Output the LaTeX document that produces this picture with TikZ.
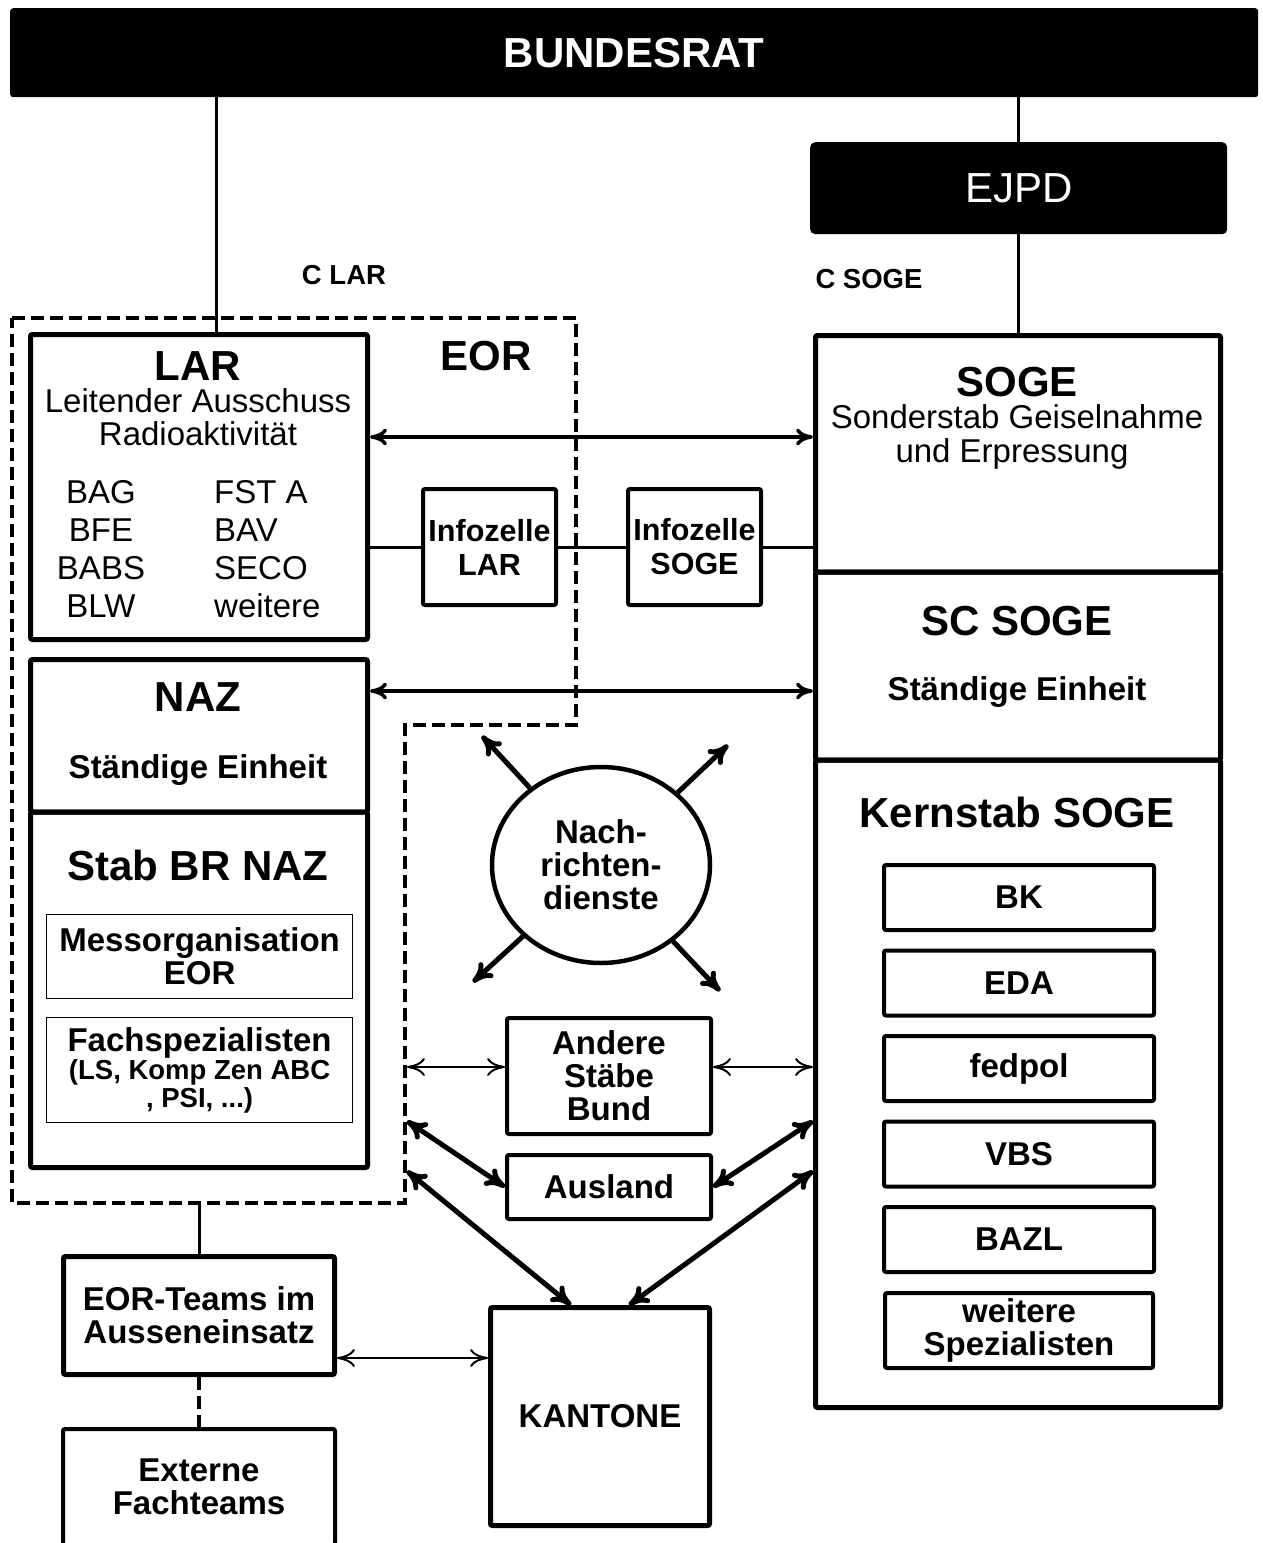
\documentclass[tikz,border=0pt]{standalone}
\usepackage{fontspec}
\setmainfont{Liberation Sans}
\usetikzlibrary{arrows.meta,calc,positioning,shapes.geometric}

\newcommand{\bigbf}{\fontsize{42}{42}\selectfont\bfseries}
\newcommand{\bigrm}{\fontsize{42}{42}\selectfont}
\newcommand{\midbf}{\fontsize{33}{33}\selectfont\bfseries}
\newcommand{\midrm}{\fontsize{33}{33}\selectfont}
\newcommand{\infobf}{\fontsize{30.5}{34}\selectfont\bfseries}
\newcommand{\smallbf}{\fontsize{27.5}{28}\selectfont\bfseries}

\tikzset{
    blackbox/.style={fill=black,text=white,rounded corners=3pt,anchor=north west,inner sep=0pt},
    unit/.style={draw,line width=5pt,rounded corners=2pt,anchor=north west,inner sep=0pt},
    cell/.style={draw,line width=4pt,rounded corners=2pt,anchor=north west,inner sep=0pt,align=center,font=\midbf},
    thinbox/.style={draw,line width=1.2pt,anchor=north west,inner sep=0pt,align=center,font=\midbf},
    txt/.style={anchor=base,inner sep=0pt},
    link/.style={line width=3pt},
    cmtip/.style={{Computer Modern Rightarrow[length=#1,width=#1]}-{Computer Modern Rightarrow[length=#1,width=#1]}},
    biarrow/.style={line width=3.5pt,cmtip=17pt},
    thinarrow/.style={line width=2pt,cmtip=18pt},
    fatarrow/.style={line width=5pt,cmtip=20pt},
    outarrow/.style={line width=5pt,-{Computer Modern Rightarrow[length=20pt,width=20pt]}},
    eorline/.style={line width=4pt,dash pattern=on 13pt off 6pt}
}

\begin{document}
\begin{tikzpicture}[x=1pt,y=-1pt]
    \useasboundingbox (0,0) rectangle (1262,1543);
    \clip (0,0) rectangle (1262,1543);

    % Top level.
    \node[blackbox,minimum width=1248pt,minimum height=89pt,font=\bigbf] (bundesrat) at (10,8) {BUNDESRAT};
    \node[blackbox,minimum width=417pt,minimum height=92pt,font=\bigrm,rounded corners=5pt] (ejpd) at (810,142) {EJPD};
    \node[txt,font=\smallbf] (clar) at (344,284) {C LAR};
    \node[txt,font=\smallbf] (csoge) at (869,288) {C SOGE};

    % EOR region.
    \draw[eorline] (12,318) -- (576,318) -- (576,725) -- (405,725) -- (405,1203) -- (12,1203) -- cycle;
    \node[txt,font=\bigbf] (eor) at (486,370) {EOR};

    % LAR.
    \node[unit,minimum width=337pt,minimum height=305pt] (lar) at (28,332) {};
    \node[txt,font=\bigbf] (lartitle) at (198,380) {LAR};
    \node[txt,font=\midrm] (larname1) at (198,412) {Leitender Ausschuss};
    \node[txt,font=\midrm] (larname2) at (198,445) {Radioaktivität};
    \foreach \l/\r [count=\i] in {BAG/FST A,BFE/BAV,BABS/SECO,BLW/weitere}
    {
        \node[txt,font=\midrm] (larl\i) at (101,465+38*\i) {\l};
        \node[txt,font=\midrm,anchor=base west] (larr\i) at (214,465+38*\i) {\r};
    }

    % NAZ and Stab BR NAZ.
    \node[unit,minimum width=337pt,minimum height=152.5pt] (naz) at (28,657) {};
    \node[txt,font=\bigbf] (naztitle) at (198,711) {NAZ};
    \node[txt,font=\midbf] (nazsub) at (198,778) {Ständige Einheit};
    \node[unit,minimum width=337pt,minimum height=355.5pt] (stab) at (28,809.5) {};
    \node[txt,font=\bigbf] (stabtitle) at (198,880) {Stab BR NAZ};
    \node[thinbox,minimum width=306pt,minimum height=84pt] (messorg) at (46,914) {Messorganisation\\EOR};
    \node[thinbox,minimum width=306pt,minimum height=105pt,font=\smallbf] (fachsp) at (46,1017)
        {{\midbf Fachspezialisten}\\(LS, Komp Zen ABC\\, PSI, ...)};

    % Infozellen.
    \node[cell,minimum width=133pt,minimum height=116pt,font=\infobf] (infolar) at (421,487) {Infozelle\\LAR};
    \node[cell,minimum width=133pt,minimum height=116pt,font=\infobf] (infosoge) at (626,487) {Infozelle\\SOGE};

    % SOGE column.
    \node[unit,minimum width=405pt,minimum height=236.5pt] (soge) at (813,333) {};
    \node[txt,font=\bigbf] (sogetitle) at (1017,396) {SOGE};
    \node[txt,font=\midrm] (sogename1) at (1017,428) {Sonderstab Geiselnahme};
    \node[txt,font=\midrm] (sogename2) at (1012,462) {und Erpressung};
    \node[unit,minimum width=405pt,minimum height=188pt] (scsoge) at (813,569.5) {};
    \node[txt,font=\bigbf] (sctitle) at (1017,635) {SC SOGE};
    \node[txt,font=\midbf] (scsub) at (1017,700) {Ständige Einheit};
    \node[unit,minimum width=405pt,minimum height=647.5pt] (kern) at (813,757.5) {};
    \node[txt,font=\bigbf] (kerntitle) at (1017,827) {Kernstab SOGE};
    \foreach \m [count=\i] in {BK,EDA,fedpol,VBS,BAZL}
        \node[cell,minimum width=270pt,minimum height=65pt] (kern\i) at (882,777.5+85.5*\i) {\m};
    \node[cell,minimum width=268pt,minimum height=75pt] (kern6) at (883,1291) {weitere\\Spezialisten};

    % Middle.
    \node[ellipse,draw,line width=4.5pt,minimum width=218pt,minimum height=196pt,inner sep=0pt,align=center,font=\midbf,text depth=0pt,yshift=-4pt] (nd) at (601,861) {Nach-\\richten-\\dienste};
    \node[cell,minimum width=204pt,minimum height=116pt] (andere) at (505,1016) {Andere\\Stäbe\\Bund};
    \node[cell,minimum width=204pt,minimum height=64pt] (ausland) at (505,1153) {Ausland};
    \node[unit,minimum width=219pt,minimum height=218pt,font=\midbf] (kantone) at (488,1305) {KANTONE};

    % Bottom left.
    \node[unit,minimum width=271pt,minimum height=118pt,align=center,font=\midbf] (eorteams) at (61,1254) {EOR-Teams im\\Ausseneinsatz};
    \node[cell,minimum width=272pt,minimum height=116pt] (externe) at (61,1427) {Externe\\Fachteams};

    % Connectors.
    \coordinate (larin) at (216,332);
    \coordinate (row1) at (0,437);
    \coordinate (row2) at (0,691);
    \coordinate (eorA) at (407,1067);
    \coordinate (eorB) at (407,1121);
    \coordinate (eorC) at (407,1171);
    \coordinate (eorbot) at (0,1203);
    \coordinate (kanrow) at (0,1358);
    \coordinate (ul) at (482,736);
    \coordinate (ur) at (728,745);
    \coordinate (ll) at (473,982);
    \coordinate (lr) at (720,991);

    \draw[link] (bundesrat.south -| larin) -- (larin);
    \draw[link] (bundesrat.south -| ejpd.north) -- (ejpd.north);
    \draw[link] (ejpd.south) -- (ejpd.south |- soge.north);

    \draw[biarrow] (lar.east |- row1) -- (soge.west |- row1);
    \draw[biarrow] (naz.east |- row2) -- (scsoge.west |- row2);
    \draw[link] (lar.east |- infolar.west) -- (infolar.west);
    \draw[link] (infolar.east) -- (infosoge.west);
    \draw[link] (infosoge.east) -- (soge.west |- infosoge.east);

    \foreach \c in {ul,ur,ll,lr}
        \draw[outarrow] (nd) -- (\c);

    \draw[thinarrow] (eorA) -- (andere.west |- eorA);
    \draw[thinarrow] (andere.east |- eorA) -- (kern.west |- eorA);
    \draw[fatarrow] (eorB) -- (ausland.west);
    \draw[fatarrow] (ausland.east) -- (kern.west |- eorB);
    \draw[fatarrow] (eorC) -- ($(kantone.north west)!0.37!(kantone.north east)$);
    \draw[fatarrow] (kern.west |- eorC) -- ($(kantone.north west)!0.63!(kantone.north east)$);

    \draw[link] (eorteams.north) -- (eorteams.north |- eorbot);
    \draw[thinarrow] (eorteams.east |- kanrow) -- (kantone.west |- kanrow);
    \draw[eorline] (eorteams.south) -- (externe.north);
\end{tikzpicture}
\end{document}
